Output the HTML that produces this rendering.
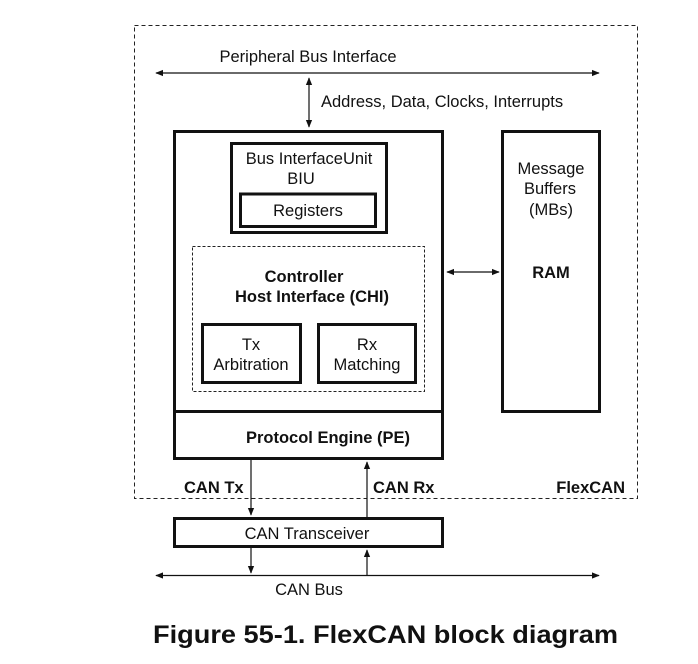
<!DOCTYPE html>
<html><head><meta charset="utf-8"><style>
html,body{margin:0;padding:0;background:#fff;}
svg{display:block;}
text{font-family:"Liberation Sans",Arial,sans-serif;fill:#111;font-size:16.5px;}
.b{font-weight:bold;}
</style></head><body>
<svg width="698" height="664" viewBox="0 0 698 664" xmlns="http://www.w3.org/2000/svg">
<defs>
<marker id="a" viewBox="0 0 10 10" refX="9" refY="5" markerWidth="8" markerHeight="8" markerUnits="userSpaceOnUse" orient="auto-start-reverse">
<path d="M0,1 L10,5 L0,9 z" fill="#111"/></marker>
</defs>
<rect x="134.5" y="25.5" width="503" height="473" fill="none" stroke="#222" stroke-width="1" stroke-dasharray="4,3"/>
<line x1="156" y1="73" x2="599" y2="73" stroke="#111" stroke-width="1.2" marker-start="url(#a)" marker-end="url(#a)"/>
<text x="308" y="62" text-anchor="middle">Peripheral Bus Interface</text>
<line x1="309" y1="78" x2="309" y2="127" stroke="#111" stroke-width="1.2" marker-start="url(#a)" marker-end="url(#a)"/>
<text x="321" y="107">Address, Data, Clocks, Interrupts</text>
<rect x="174.5" y="131.5" width="268" height="327" fill="none" stroke="#111" stroke-width="3"/>
<line x1="174" y1="411.5" x2="443" y2="411.5" stroke="#111" stroke-width="3"/>
<text x="328" y="443" class="b" text-anchor="middle">Protocol Engine (PE)</text>
<rect x="231.5" y="143.5" width="155" height="89" fill="none" stroke="#111" stroke-width="3"/>
<text x="309" y="164" text-anchor="middle">Bus InterfaceUnit</text>
<text x="301" y="184" text-anchor="middle">BIU</text>
<rect x="240.5" y="194" width="135" height="32.5" fill="none" stroke="#111" stroke-width="3"/>
<text x="308" y="216" text-anchor="middle">Registers</text>
<rect x="192.5" y="246.5" width="232" height="145" fill="none" stroke="#222" stroke-width="1" stroke-dasharray="3,2"/>
<text x="304" y="282" class="b" text-anchor="middle">Controller</text>
<text x="312" y="302" class="b" text-anchor="middle">Host Interface (CHI)</text>
<rect x="202.5" y="324.5" width="98" height="58" fill="none" stroke="#111" stroke-width="3"/>
<text x="251" y="350" text-anchor="middle">Tx</text>
<text x="251" y="370" text-anchor="middle">Arbitration</text>
<rect x="318.5" y="324.5" width="97" height="58" fill="none" stroke="#111" stroke-width="3"/>
<text x="367" y="350" text-anchor="middle">Rx</text>
<text x="367" y="370" text-anchor="middle">Matching</text>
<rect x="502.5" y="131.5" width="97" height="280" fill="none" stroke="#111" stroke-width="3"/>
<text x="551" y="174" text-anchor="middle">Message</text>
<text x="550" y="194" text-anchor="middle">Buffers</text>
<text x="551" y="215" text-anchor="middle">(MBs)</text>
<text x="551" y="278" class="b" text-anchor="middle">RAM</text>
<line x1="447" y1="272" x2="499" y2="272" stroke="#111" stroke-width="1.2" marker-start="url(#a)" marker-end="url(#a)"/>
<line x1="251" y1="460" x2="251" y2="515" stroke="#111" stroke-width="1.2" marker-end="url(#a)"/>
<line x1="367" y1="517" x2="367" y2="462" stroke="#111" stroke-width="1.2" marker-end="url(#a)"/>
<text x="184" y="493" class="b">CAN Tx</text>
<text x="373" y="493" class="b">CAN Rx</text>
<text x="625" y="493" class="b" text-anchor="end">FlexCAN</text>
<rect x="174.5" y="518.5" width="268" height="28" fill="none" stroke="#111" stroke-width="3"/>
<text x="307" y="539" text-anchor="middle">CAN Transceiver</text>
<line x1="251" y1="548" x2="251" y2="573" stroke="#111" stroke-width="1.2" marker-end="url(#a)"/>
<line x1="367" y1="575" x2="367" y2="550" stroke="#111" stroke-width="1.2" marker-end="url(#a)"/>
<line x1="156" y1="575.5" x2="599" y2="575.5" stroke="#111" stroke-width="1.2" marker-start="url(#a)" marker-end="url(#a)"/>
<text x="309" y="595" text-anchor="middle">CAN Bus</text>
<text x="153" y="643" style="font-size:25px" class="b" textLength="465" lengthAdjust="spacingAndGlyphs">Figure 55-1. FlexCAN block diagram</text>
</svg>
</body></html>
